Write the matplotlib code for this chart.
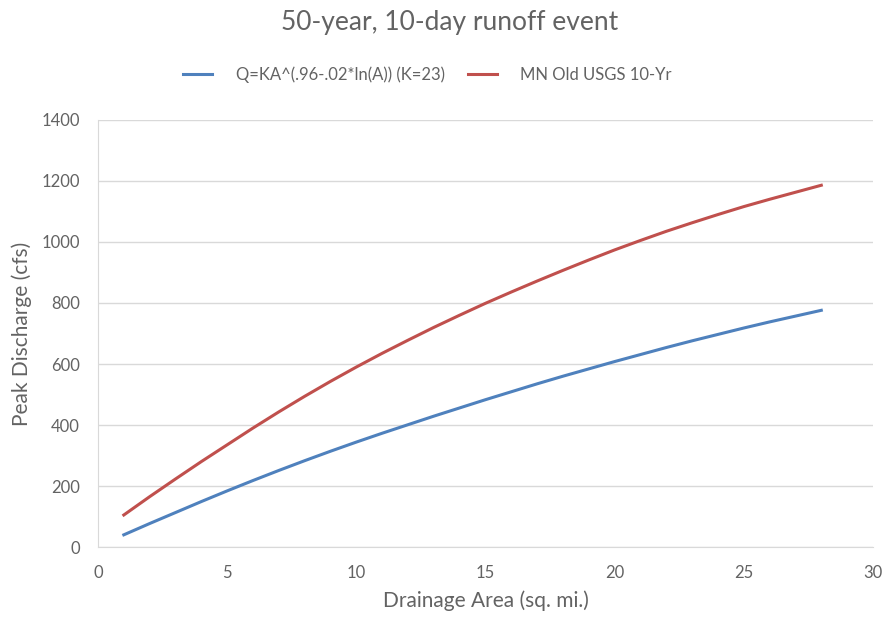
import matplotlib
matplotlib.use("Agg")
import matplotlib.pyplot as plt

plt.rcParams['font.family'] = ['Lato', 'DejaVu Sans']

# Data
area = [1, 2, 3, 4, 5, 6, 7, 8, 9, 10, 11, 12, 13, 14, 15, 16, 17, 18, 19, 20,
        21, 22, 23, 24, 25, 26, 27, 28]
q_formula = [40, 77, 113, 149, 184, 218, 251, 283, 314, 344, 373, 401, 429, 456,
             483, 509, 535, 560, 584, 608, 631, 654, 676, 697, 718, 738, 757, 776]
q_usgs = [105, 165, 223, 280, 335, 390, 443, 494, 543, 590, 635, 678, 720, 760,
          799, 836, 872, 907, 941, 974, 1005, 1035, 1063, 1090, 1116, 1140, 1163, 1186]

series_labels = ["Q=KA^(.96-.02*ln(A)) (K=23)", "MN Old USGS 10-Yr"]
x_ticks = [0, 5, 10, 15, 20, 25, 30]
y_ticks = [0, 200, 400, 600, 800, 1000, 1200, 1400]

title = "50-year, 10-day runoff event"
x_label = "Drainage Area (sq. mi.)"
y_label = "Peak Discharge (cfs)"

text_gray = "#636363"
grid_gray = "#d9d9d9"

fig = plt.figure(figsize=(8.85, 6.2), dpi=100)
ax = fig.add_axes([0.1107, 0.1177, 0.8757, 0.6888])

ax.plot(area, q_formula, color="#4f81bd", lw=2.2, label=series_labels[0])
ax.plot(area, q_usgs, color="#c0504d", lw=2.2, label=series_labels[1])

ax.set_xlim(0, 30)
ax.set_ylim(0, 1400)
ax.set_xticks(x_ticks)
ax.set_yticks(y_ticks)
ax.tick_params(axis='both', length=0, colors=text_gray, labelsize=12)
ax.tick_params(axis='x', pad=13)
ax.tick_params(axis='y', pad=13)

ax.grid(axis='y', color=grid_gray, lw=1)
ax.set_axisbelow(True)
for s in ['top', 'right']:
    ax.spines[s].set_visible(False)
ax.spines['left'].set_color(grid_gray)
ax.spines['bottom'].set_color(grid_gray)

ax.set_xlabel(x_label, color=text_gray, fontsize=15, labelpad=7)
ax.set_ylabel(y_label, color=text_gray, fontsize=15, labelpad=7)

fig.text(0.508, 0.963, title, ha='center', va='center', color=text_gray, fontsize=19)

fig.legend(loc='center', bbox_to_anchor=(0.483, 0.879), ncol=2, frameon=False,
           fontsize=12, labelcolor=text_gray, handlelength=1.75,
           handletextpad=1.4, columnspacing=1.4)

fig.savefig("out.png", dpi=100, facecolor="white")
